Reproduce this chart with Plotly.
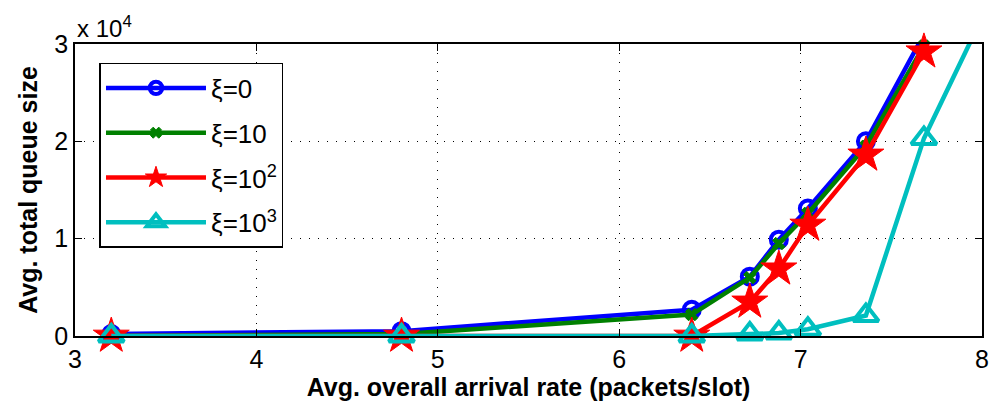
import plotly.graph_objects as go

# Average overall arrival rate (packets/slot)
arrival_rate = [3.2, 4.8, 6.4, 6.72, 6.88, 7.04, 7.36, 7.68, 8.0]

# Average total queue size, in units of 10^4
queue_xi_0 = [0.02, 0.05, 0.27, 0.61, 0.99, 1.31, 2.00, 3.10, 4.6]
queue_xi_10 = [0.0, 0.02, 0.22, 0.60, 0.95, 1.26, 1.95, 2.98, 4.4]
queue_xi_100 = [0.0, 0.0, 0.0, 0.35, 0.69, 1.14, 1.86, 2.92, 4.3]
queue_xi_1000 = [0.0, 0.0, 0.0, 0.02, 0.03, 0.07, 0.21, 2.03, 3.27]

series_names = ["ξ=0", "ξ=10", "ξ=10<sup>2</sup>", "ξ=10<sup>3</sup>"]
series_values = [queue_xi_0, queue_xi_10, queue_xi_100, queue_xi_1000]

X_RANGE = [3, 8]
Y_RANGE = [0, 3]
FONT = "Liberation Sans, Arial"

styles = [
    dict(color="#0000ff", symbol="circle-open", size=16, mlw=4),
    dict(color="#008000", symbol="x", size=11, mlw=1),
    dict(color="#ff0000", symbol="star", size=27, mlw=1),
    dict(color="#00bfbf", symbol="triangle-up-open", size=22, mlw=4),
]

fig = go.Figure()
for name, vals, st in zip(series_names, series_values, styles):
    # markers are only shown for points inside the visible axes range
    sizes = [st["size"] if (X_RANGE[0] <= x <= X_RANGE[1] and Y_RANGE[0] <= y <= Y_RANGE[1]) else 0
             for x, y in zip(arrival_rate, vals)]
    fig.add_trace(go.Scatter(
        x=arrival_rate, y=vals, name=name, mode="lines+markers",
        line=dict(color=st["color"], width=4.5),
        marker=dict(symbol=st["symbol"], size=sizes, color=st["color"], opacity=1,
                    line=dict(color=st["color"], width=st["mlw"])),
        cliponaxis=False, legendgroup=name,
    ))

axis_common = dict(
    showline=True, linecolor="black", linewidth=1.5, mirror="ticks",
    ticks="inside", ticklen=7, tickcolor="black", tickwidth=1,
    showgrid=True, gridcolor="black", gridwidth=1, griddash="1px,8px",
    zeroline=False, tickfont=dict(family=FONT, size=25, color="black"),
)

fig.update_xaxes(range=X_RANGE, tickvals=[3, 4, 5, 6, 7, 8], **axis_common,
                 title=dict(text="<b>Avg. overall arrival rate (packets/slot)</b>",
                            font=dict(family=FONT, size=25, color="black"),
                            standoff=0))
fig.update_yaxes(range=Y_RANGE, tickvals=[0, 1, 2, 3], **axis_common,
                 title=dict(text="<b>Avg. total queue size</b>",
                            font=dict(family=FONT, size=25, color="black"),
                            standoff=10))

fig.add_annotation(text="x 10<sup>4</sup>", xref="paper", yref="paper",
                   x=0.0, y=1.0, xanchor="left", yanchor="bottom", showarrow=False,
                   font=dict(family=FONT, size=24, color="black"))

fig.update_layout(
    width=1000, height=408,
    margin=dict(l=75, r=11, t=44, b=72),
    paper_bgcolor="white", plot_bgcolor="white",
    showlegend=True,
    legend=dict(x=0.027, y=0.935, xanchor="left", yanchor="top",
                bgcolor="white", bordercolor="black", borderwidth=1.5,
                font=dict(family=FONT, size=26, color="black"),
                itemwidth=100, tracegroupgap=8),
)

fig.write_html("out.html")
